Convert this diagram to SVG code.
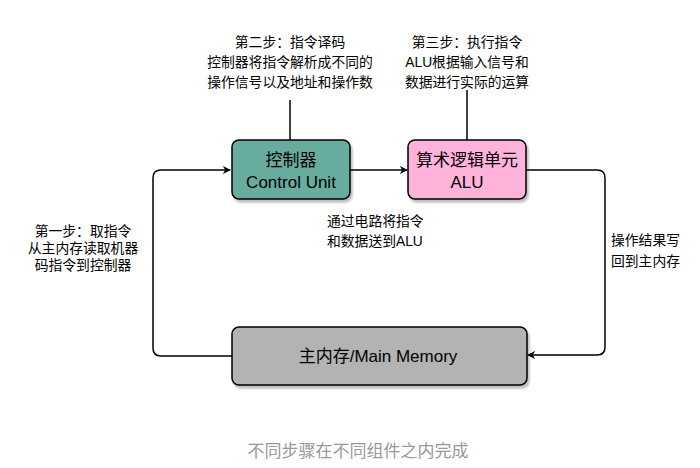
<svg xmlns="http://www.w3.org/2000/svg" width="700" height="468" viewBox="0 0 700 468">
<style>
text{font-family:"Liberation Sans","Noto Sans CJK SC",sans-serif;fill:#000}
.lbl{font-size:13.8px}
.box{font-size:17px}
.c{stroke:#000;stroke-width:1.5;fill:none}
.n{stroke:#000;stroke-width:1.5}
</style>
<defs>
<marker id="ar" viewBox="0 0 10 10" refX="9" refY="5" markerWidth="8" markerHeight="8" markerUnits="userSpaceOnUse" orient="auto"><path d="M0,0 L10,5 L0,10 L3,5 Z" fill="#000"/></marker>
<filter id="sh" x="-10%" y="-10%" width="130%" height="140%"><feDropShadow dx="2" dy="3" stdDeviation="1.2" flood-color="#000" flood-opacity="0.25"/></filter>
</defs>
<rect width="700" height="468" fill="#fff"/>
<g id="connectors">
<path class="c" d="M290,140 V100"/>
<path class="c" d="M467,140 V90"/>
<path class="c" d="M350,170 H407" marker-end="url(#ar)"/>
<path class="c" d="M526,170 H597 Q605,170 605,178 V347 Q605,355 597,355 H528" marker-end="url(#ar)"/>
<path class="c" d="M232,356 H161 Q153,356 153,348 V178 Q153,170 161,170 H230" marker-end="url(#ar)"/>
</g>
<g id="cu">
<rect class="n" x="232" y="140" width="118" height="59" rx="7" fill="#67AB9F" filter="url(#sh)"/>
<text class="box" x="291" y="166" text-anchor="middle">控制器</text>
<text class="box" x="291" y="188" text-anchor="middle">Control Unit</text>
</g>
<g id="alu">
<rect class="n" x="408" y="140" width="118" height="59" rx="7" fill="#FFB3DA" filter="url(#sh)"/>
<text class="box" x="467" y="166" text-anchor="middle">算术逻辑单元</text>
<text class="box" x="467" y="188" text-anchor="middle">ALU</text>
</g>
<g id="mem">
<rect class="n" x="232" y="327" width="295" height="58" rx="7" fill="#B3B3B3" filter="url(#sh)"/>
<text class="box" x="378" y="362" text-anchor="middle">主内存/Main Memory</text>
</g>
<g id="step2">
<text class="lbl" x="290" y="47" text-anchor="middle">第二步：指令译码</text>
<text class="lbl" x="290" y="67" text-anchor="middle">控制器将指令解析成不同的</text>
<text class="lbl" x="290" y="87" text-anchor="middle">操作信号以及地址和操作数</text>
</g>
<g id="step3">
<text class="lbl" x="467" y="47" text-anchor="middle">第三步：执行指令</text>
<text class="lbl" x="467" y="67" text-anchor="middle">ALU根据输入信号和</text>
<text class="lbl" x="467" y="87" text-anchor="middle">数据进行实际的运算</text>
</g>
<g id="step1">
<text class="lbl" x="83" y="236" text-anchor="middle">第一步：取指令</text>
<text class="lbl" x="83" y="253" text-anchor="middle">从主内存读取机器</text>
<text class="lbl" x="83" y="270" text-anchor="middle">码指令到控制器</text>
</g>
<g id="send">
<text class="lbl" x="327" y="226">通过电路将指令</text>
<text class="lbl" x="327" y="246">和数据送到ALU</text>
</g>
<g id="write">
<text class="lbl" x="611" y="245">操作结果写</text>
<text class="lbl" x="611" y="266">回到主内存</text>
</g>
<text x="358" y="457" text-anchor="middle" style="font-size:17px;fill:#999">不同步骤在不同组件之内完成</text>
</svg>
